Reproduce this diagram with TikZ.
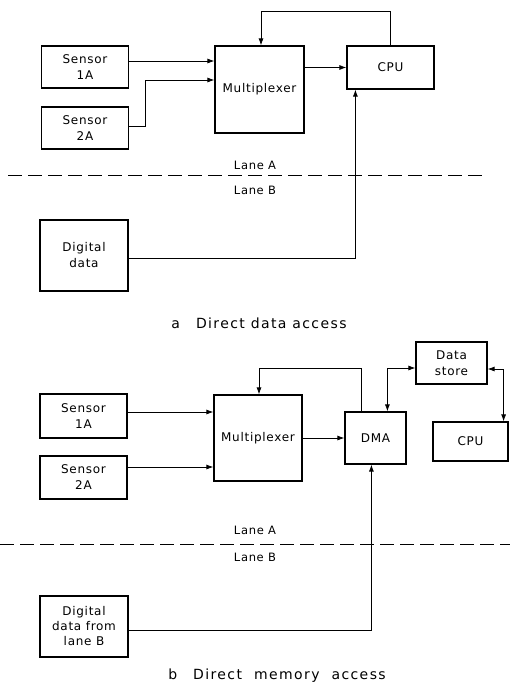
\documentclass[tikz,border=0pt]{standalone}
\usepackage{fontspec}
\setmainfont{DejaVu Sans}[LetterSpace=6]
\newfontfamily\capfont{DejaVu Sans}[LetterSpace=10]
\usetikzlibrary{arrows.meta}

\tikzset{
  blk/.style={draw, line width=1.2pt, align=center, inner sep=0pt, font=\fontsize{12}{16}\selectfont},
  link/.style={line width=0.8pt},
  arr/.style={link, -{Latex[length=7pt,width=5pt]}},
  biarr/.style={link, {Latex[length=7pt,width=5pt]}-{Latex[length=7pt,width=5pt]}},
  lanesep/.style={line width=0.8pt, dash pattern=on 14pt off 6pt},
  lbl/.style={font=\fontsize{11.5}{13}\selectfont},
  captxt/.style={font=\capfont\fontsize{14}{16}\selectfont},
}

\begin{document}
\begin{tikzpicture}[x=1pt, y=-1pt]
    \useasboundingbox (0,0) rectangle (510,687);

    % a: direct data access
    \node[blk, minimum width=87, minimum height=42] (s1a) at (85,67) {Sensor\\1A};
    \node[blk, minimum width=87, minimum height=42] (s2a) at (85,128) {Sensor\\2A};
    \node[blk, minimum width=89, minimum height=87] (muxa) at (259.5,89.5) {Multiplexer};
    \node[blk, minimum width=87, minimum height=43] (cpua) at (390.5,67.5) {CPU};
    \node[blk, minimum width=88, minimum height=71] (dda) at (84,255.5) {Digital\\data};

    \coordinate (ya1) at (0,61);
    \coordinate (ya2) at (0,126);
    \coordinate (joga) at (145,80);
    \draw[arr] (s1a.east |- ya1) -- (muxa.west |- ya1);
    \draw[arr] (s2a.east |- ya2) -| (joga) -- (muxa.west |- joga);
    \draw[arr] (muxa.east |- cpua) -- (cpua.west);
    \draw[arr] (cpua.north) -- ++(0,-34) -| ([xshift=1.5]muxa.north);
    \draw[arr] ([yshift=-3]dda.east) -| ([xshift=9]cpua.south west);

    % lanes
    \node[lbl] (lanea1) at (255,165) {Lane A};
    \draw[lanesep] (8,175) -- (483,175);
    \node[lbl] (laneb1) at (255,190) {Lane B};

    \node[captxt] (capa) at (259,323) {a\hspace{16pt}Direct data access};

    % b: direct memory access
    \node[blk, minimum width=87, minimum height=44] (s1b) at (83.5,416) {Sensor\\1A};
    \node[blk, minimum width=87, minimum height=43] (s2b) at (83.5,477.5) {Sensor\\2A};
    \node[blk, minimum width=88, minimum height=86] (muxb) at (258,438) {Multiplexer};
    \node[blk, minimum width=61, minimum height=52] (dma) at (375.5,438) {DMA};
    \node[blk, minimum width=71, minimum height=42] (ds) at (451.5,363) {Data\\store};
    \node[blk, minimum width=75, minimum height=39] (cpub) at (470.5,441.5) {CPU};
    \node[blk, minimum width=88, minimum height=61, font=\fontsize{12}{15}\selectfont] (ddb) at (84,626.5) {Digital\\data from\\lane B};

    \coordinate (yb1) at (0,412);
    \coordinate (yb2) at (0,467);
    \draw[arr] (s1b.east |- yb1) -- (muxb.west |- yb1);
    \draw[arr] (s2b.east |- yb2) -- (muxb.west |- yb2);
    \draw[arr] (muxb.east |- dma) -- (dma.west);
    \draw[arr] ([xshift=17]dma.north west) -- ++(0,-43) -| ([xshift=1]muxb.north);
    \draw[biarr] ([xshift=43]dma.north west) |- ([yshift=-5]ds.west);
    \draw[biarr] ([yshift=-6]ds.east) -| ([xshift=-5]cpub.north east);
    \draw[arr] ([yshift=-4]ddb.east) -| ([xshift=27]dma.south west);

    % lanes
    \node[lbl] (lanea2) at (255,530) {Lane A};
    \draw[lanesep] (0,544) -- (510,544);
    \node[lbl] (laneb2) at (255,557) {Lane B};

    \node[captxt] (capb) at (277,676) {b\hspace{16pt}Direct\hspace{12pt}memory\hspace{12pt}access};
\end{tikzpicture}
\end{document}
